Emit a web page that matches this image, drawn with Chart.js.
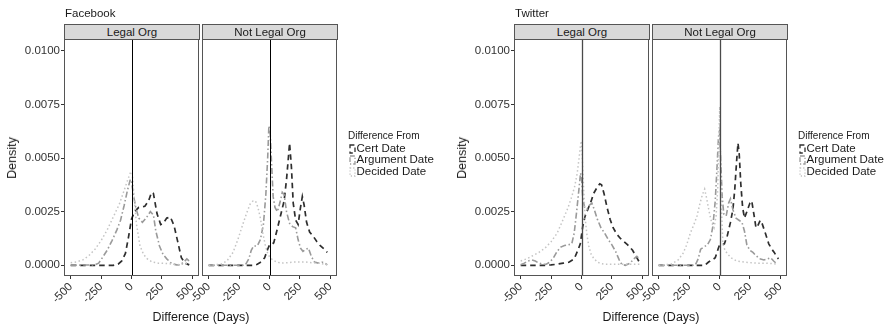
<!DOCTYPE html>
<html><head><meta charset="utf-8">
<script src="https://cdn.jsdelivr.net/npm/chart.js@4"></script>
<style>
html,body{margin:0;padding:0;background:#fff;}
body{width:894px;height:325px;position:relative;overflow:hidden;font-family:"Liberation Sans",Arial,sans-serif;color:#1a1a1a;}
canvas{position:absolute;}
.t{position:absolute;white-space:nowrap;}
.strip{position:absolute;top:24px;height:16px;background:#d9d9d9;border:1px solid #555;box-sizing:border-box;font-size:11.5px;line-height:14px;text-align:center;color:#1a1a1a;}
.legend{position:absolute;width:100px;}
.legend .lt{height:14px;line-height:14px;white-space:nowrap;font-size:10px;}
.legend .li{height:11.3px;line-height:11.3px;position:relative;white-space:nowrap;font-size:11.5px;}
.legend .li svg{position:absolute;left:1px;top:1px;}
.legend .li span{position:absolute;left:8.5px;top:0;white-space:nowrap;}
</style></head>
<body>
<script>
// ---- data ----
const platforms = ["Facebook", "Twitter"];
const orgGroups = ["Legal Org", "Not Legal Org"];
const seriesNames = ["Cert Date", "Argument Date", "Decided Date"];
const legendTitle = "Difference From";
const xAxisTitle = "Difference (Days)";
const yAxisTitle = "Density";
const tickDays = [-500, -250, 0, 250, 500];
const tickDayLabels = ["-500", "-250", "0", "250", "500"];
const tickDensity = [0, 0.0025, 0.005, 0.0075, 0.01];
const tickDensityLabels = ["0.0000", "0.0025", "0.0050", "0.0075", "0.0100"];

// Facebook / Legal Org
const fbLegalCertDays = [-500,-150,-110,-80,-50,-25,0,25,60,110,140,165,180,210,240,260,290,320,350,380,410,440,475];
const fbLegalCertDensity = [0,0,0.00005,0.0002,0.00055,0.0013,0.00215,0.0025,0.0027,0.00275,0.003,0.0034,0.00335,0.0024,0.0019,0.00195,0.0022,0.00225,0.00185,0.0011,0.00035,0.0001,0.00002];
const fbLegalArgumentDays = [-500,-300,-270,-240,-200,-160,-120,-90,-60,-35,-10,0,15,35,60,90,120,155,180,200,230,260,290,330,370,400,430,455,475];
const fbLegalArgumentDensity = [0,0.00002,0.0001,0.00035,0.0007,0.00115,0.00165,0.0021,0.0028,0.00345,0.004,0.00395,0.0033,0.0027,0.0022,0.002,0.0022,0.0025,0.00235,0.0016,0.0009,0.0005,0.0003,0.00008,0.00002,0.00002,0.00015,0.0003,0.0002];
const fbLegalDecidedDays = [-500,-450,-400,-350,-300,-250,-200,-150,-100,-60,-30,-10,5,20,40,70,100,130,170,220,300,380,440,475];
const fbLegalDecidedDensity = [0.00012,0.00016,0.00025,0.00045,0.00075,0.00115,0.00165,0.00225,0.00285,0.0035,0.004,0.0043,0.00435,0.0033,0.00195,0.0009,0.0005,0.0003,0.00015,0.0001,0.00008,0.00003,0.00006,0.0001];

// Facebook / Not Legal Org
const fbNotLegalCertDays = [-500,-130,-100,-70,-40,-15,0,15,35,60,90,120,140,155,165,180,195,215,235,255,270,285,305,330,360,390,420,450,475];
const fbNotLegalCertDensity = [0,0,0.00005,0.00015,0.00035,0.00075,0.00095,0.00095,0.00105,0.0016,0.0023,0.003,0.004,0.005,0.0057,0.0046,0.0029,0.0021,0.0019,0.0027,0.0032,0.0028,0.002,0.00155,0.00135,0.0011,0.0009,0.00075,0.0006];
const fbNotLegalArgumentDays = [-500,-200,-170,-150,-130,-100,-75,-50,-30,-15,-5,5,15,30,45,65,85,105,120,140,165,190,215,235,255,275,300,320,345,370,400,430,450,475];
const fbNotLegalArgumentDensity = [0,0,0.0003,0.0007,0.0009,0.0009,0.0012,0.0019,0.0033,0.005,0.0065,0.0062,0.005,0.0032,0.0027,0.0025,0.0029,0.0034,0.0033,0.0025,0.00195,0.0018,0.00175,0.0012,0.0008,0.00065,0.00075,0.0008,0.0004,0.00015,0.0001,0.00015,0.00012,0.00002];
const fbNotLegalDecidedDays = [-500,-400,-350,-300,-260,-220,-190,-160,-135,-115,-95,-75,-55,-35,-15,0,25,60,100,150,200,250,300,350,400,450,475];
const fbNotLegalDecidedDensity = [0,0.00005,0.0002,0.0006,0.0012,0.0019,0.0024,0.00285,0.003,0.003,0.0027,0.0022,0.0015,0.00095,0.00055,0.0004,0.00025,0.00015,0.0001,0.00012,0.00015,0.00015,0.00015,0.00012,0.0001,0.00005,0.00002];

// Twitter / Legal Org
const twLegalCertDays = [-500,-300,-250,-200,-150,-100,-60,-30,-10,10,30,55,80,100,125,150,165,185,210,235,260,290,320,350,380,420,450,480];
const twLegalCertDensity = [0,0,0.00002,0.00005,0.0001,0.00015,0.0003,0.0007,0.001,0.0018,0.0023,0.00265,0.003,0.00335,0.0036,0.0038,0.00375,0.00335,0.0027,0.00215,0.00175,0.00145,0.00125,0.0011,0.00095,0.0007,0.0004,0.0001];
const twLegalArgumentDays = [-500,-470,-440,-410,-380,-350,-320,-290,-260,-230,-200,-170,-140,-110,-80,-60,-40,-20,-8,0,10,25,45,65,85,105,130,160,190,220,250,280,310,330,360,400,430,455,475];
const twLegalArgumentDensity = [0.00002,0.0001,0.0002,0.00025,0.0002,0.0001,0.00005,0.00005,0.00015,0.00035,0.00065,0.00085,0.00092,0.00095,0.001,0.0015,0.0025,0.0036,0.0043,0.0041,0.0032,0.0027,0.0026,0.0028,0.0029,0.0026,0.00215,0.00175,0.0015,0.0012,0.00095,0.00065,0.00025,0.00005,0,0.0001,0.0003,0.00042,0.0003];
const twLegalDecidedDays = [-500,-450,-400,-350,-300,-250,-200,-150,-110,-80,-55,-35,-20,-8,0,8,18,30,45,60,80,100,130,160,200,250,300,350,400,450,480];
const twLegalDecidedDensity = [0.0002,0.0003,0.00045,0.0006,0.0008,0.0011,0.0015,0.00215,0.0027,0.0032,0.0037,0.0043,0.005,0.0056,0.0058,0.0048,0.0035,0.0022,0.0014,0.0009,0.0005,0.00033,0.00015,0.00008,0.00005,0.00005,0.00005,0.00005,0.00005,0.00005,0.00005];

// Twitter / Not Legal Org
const twNotLegalCertDays = [-500,-120,-90,-60,-35,-15,0,20,40,65,90,110,125,140,152,162,175,190,205,225,250,265,285,300,315,335,350,365,380,405,430,450,470,485];
const twNotLegalCertDensity = [0,0,0.00015,0.00025,0.00035,0.0007,0.00095,0.00095,0.001,0.0014,0.002,0.0026,0.0035,0.0048,0.0057,0.0052,0.0038,0.0027,0.0022,0.0025,0.0029,0.003,0.0023,0.00175,0.00185,0.0021,0.00195,0.0017,0.00145,0.001,0.00075,0.0006,0.0004,0.0003];
const twNotLegalArgumentDays = [-500,-200,-175,-155,-130,-100,-75,-55,-35,-20,-8,0,10,22,35,55,75,90,110,135,160,185,205,225,250,275,300,330,365,395,420,445,475];
const twNotLegalArgumentDensity = [0,0,0.0003,0.00075,0.00085,0.00095,0.0012,0.0018,0.003,0.0046,0.006,0.00625,0.0049,0.0032,0.0024,0.0023,0.0029,0.0031,0.0026,0.0022,0.0021,0.002,0.0016,0.00095,0.0007,0.0006,0.00045,0.0003,0.00025,0.0003,0.00035,0.0002,0.00005];
const twNotLegalDecidedDays = [-500,-400,-340,-300,-270,-240,-210,-185,-160,-140,-122,-105,-85,-65,-45,-28,-15,-5,2,10,18,28,45,70,100,140,200,260,320,380,440,475];
const twNotLegalDecidedDensity = [0,0.00005,0.00025,0.00055,0.00095,0.0015,0.0019,0.0023,0.0029,0.0033,0.00355,0.0031,0.0025,0.002,0.00175,0.0023,0.0035,0.006,0.0074,0.0042,0.0024,0.001,0.0007,0.0005,0.00033,0.0002,0.00015,0.00012,0.0001,0.0001,0.00008,0.00005];

// ---- layout & style (not data) ----
const seriesStyles = [
  {color: "#2e2e2e", width: 1.7, dash: [5.5, 4]},
  {color: "#9a9a9a", width: 1.6, dash: [6, 2.5, 1.5, 2.5]},
  {color: "#c4c4c4", width: 1.5, dash: [1.5, 2.5]}
];
const FONT = '"Liberation Sans", Arial, sans-serif';
const CANVAS_TOP = 20, CANVAS_H = 305;
const PANEL_TOP = 39, PANEL_BOTTOM = 276;

const panelPlugin = {
  id: 'panel',
  afterDatasetsDraw(chart, args, opts) {
    const {ctx, chartArea: a, scales} = chart;
    ctx.save();
    const px = Math.round(scales.x.getPixelForValue(0)) + 0.5;
    ctx.strokeStyle = opts.vColor; ctx.lineWidth = opts.vWidth; ctx.setLineDash([]);
    ctx.beginPath(); ctx.moveTo(px, a.top); ctx.lineTo(px, a.bottom); ctx.stroke();
    ctx.strokeStyle = '#555'; ctx.lineWidth = 1;
    ctx.strokeRect(a.left + 0.5, a.top + 0.5, a.right - a.left - 1, a.bottom - a.top - 1);
    ctx.restore();
  }
};

function addCanvas(left, width) {
  const c = document.createElement('canvas');
  c.width = width; c.height = CANVAS_H;
  c.style.left = left + 'px'; c.style.top = CANVAS_TOP + 'px';
  c.style.width = width + 'px'; c.style.height = CANVAS_H + 'px';
  document.body.appendChild(c);
  return c;
}

function facet(left, width, panelLeft, panelRight, showY, series, vColor, vWidth) {
  const c = addCanvas(left, width);
  new Chart(c, {
    type: 'line',
    data: {
      datasets: series.map((s, i) => ({
        label: seriesNames[i],
        data: s[0].map((d, j) => ({x: d, y: s[1][j]})),
        borderColor: seriesStyles[i].color,
        borderWidth: seriesStyles[i].width,
        borderDash: seriesStyles[i].dash,
        pointRadius: 0, fill: false, tension: 0,
        order: 3 - i
      }))
    },
    options: {
      responsive: false, animation: false, devicePixelRatio: 1,
      layout: {padding: {left: showY ? 0 : panelLeft - left, right: left + width - panelRight, top: PANEL_TOP - CANVAS_TOP, bottom: 0}},
      plugins: {legend: {display: false}, tooltip: {enabled: false}, panel: {vColor, vWidth}},
      scales: {
        x: {
          type: 'linear', min: -555, max: 555,
          afterBuildTicks: sc => { sc.ticks = tickDays.map(v => ({value: v})); },
          afterFit: sc => { sc.height = CANVAS_TOP + CANVAS_H - PANEL_BOTTOM; },
          ticks: {autoSkip: false, maxRotation: 45, minRotation: 45, padding: 1, color: '#333',
            font: {family: FONT, size: 11.5}, callback: (v, i) => tickDayLabels[i]},
          grid: {drawOnChartArea: false, drawTicks: true, tickLength: 3, color: '#333', lineWidth: 1},
          border: {display: false}
        },
        y: {
          display: showY, min: -0.0005, max: 0.01055,
          afterBuildTicks: sc => { sc.ticks = tickDensity.map(v => ({value: v})); },
          afterFit: sc => { sc.width = showY ? panelLeft - left : 0; },
          ticks: {padding: 1, color: '#333', font: {family: FONT, size: 11.5}, callback: (v, i) => tickDensityLabels[i]},
          grid: {drawOnChartArea: false, drawTicks: true, tickLength: 3, color: '#333', lineWidth: 1},
          border: {display: false}
        }
      }
    },
    plugins: [panelPlugin]
  });
}

function text(str, left, top, size, extra) {
  const d = document.createElement('div');
  d.className = 't'; d.textContent = str;
  d.style.left = left + 'px'; d.style.top = top + 'px'; d.style.fontSize = size + 'px';
  if (extra) Object.assign(d.style, extra);
  document.body.appendChild(d);
  return d;
}

function strip(str, left, width) {
  const d = document.createElement('div');
  d.className = 'strip'; d.textContent = str;
  d.style.left = left + 'px'; d.style.width = width + 'px';
  document.body.appendChild(d);
}

function keySvg(i) {
  const s = seriesStyles[i];
  return '<svg width="8" height="10" xmlns="http://www.w3.org/2000/svg"><rect x="1" y="1" width="5" height="8" fill="none" stroke="' +
    s.color + '" stroke-width="1.3" stroke-dasharray="' + s.dash.map(v => v * 0.8).join(',') + '"/></svg>';
}

function legend(left, top) {
  const d = document.createElement('div');
  d.className = 'legend';
  d.style.left = left + 'px'; d.style.top = top + 'px';
  let h = '<div class="lt">' + legendTitle + '</div>';
  seriesNames.forEach((n, i) => { h += '<div class="li">' + keySvg(i) + '<span>' + n + '</span></div>'; });
  d.innerHTML = h;
  document.body.appendChild(d);
}

const facetData = [
  [[[fbLegalCertDays, fbLegalCertDensity], [fbLegalArgumentDays, fbLegalArgumentDensity], [fbLegalDecidedDays, fbLegalDecidedDensity]],
   [[fbNotLegalCertDays, fbNotLegalCertDensity], [fbNotLegalArgumentDays, fbNotLegalArgumentDensity], [fbNotLegalDecidedDays, fbNotLegalDecidedDensity]]],
  [[[twLegalCertDays, twLegalCertDensity], [twLegalArgumentDays, twLegalArgumentDensity], [twLegalDecidedDays, twLegalDecidedDensity]],
   [[twNotLegalCertDays, twNotLegalCertDensity], [twNotLegalArgumentDays, twNotLegalArgumentDensity], [twNotLegalDecidedDays, twNotLegalDecidedDensity]]]
];
const vLines = [{c: '#000', w: 1}, {c: '#4a4a4a', w: 1.3}];

platforms.forEach((p, k) => {
  const o = k * 450;
  const p1L = o + 64, p1R = o + 199, p2L = o + 202, p2R = o + 337;
  facet(o, 215, p1L, p1R, true, facetData[k][0], vLines[k].c, vLines[k].w);
  facet(o + 160, 190, p2L, p2R, false, facetData[k][1], vLines[k].c, vLines[k].w);
  strip(orgGroups[0], p1L, p1R - p1L + 1);
  strip(orgGroups[1], p2L, p2R - p2L + 1);
  text(p, o + 65, 7, 11.5);
  text(yAxisTitle, o + 12, 158, 12.5, {transform: 'translate(-50%,-50%) rotate(-90deg)'});
  text(xAxisTitle, o + 201, 310, 12.5, {transform: 'translateX(-50%)'});
  legend(o + 348, 129);
});
</script>
</body></html>
